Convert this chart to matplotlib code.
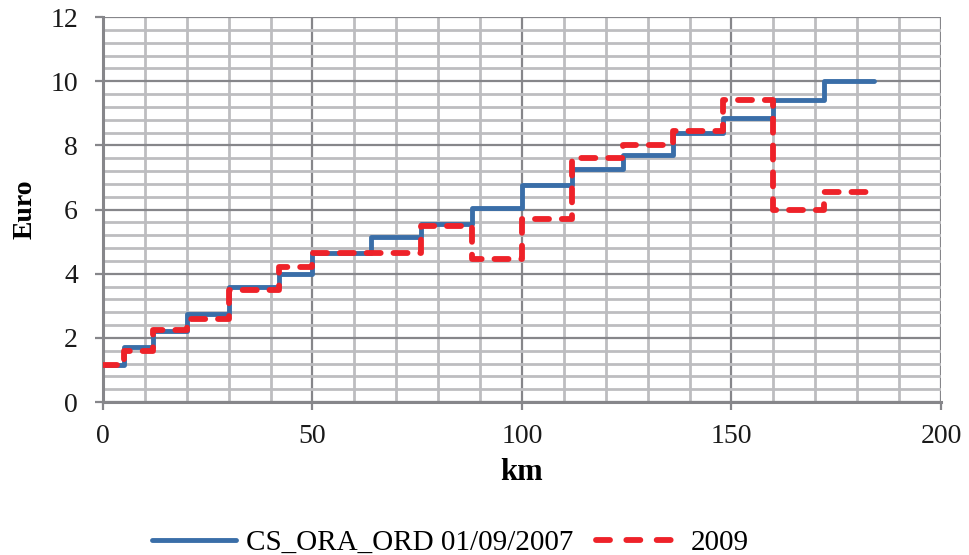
import matplotlib
matplotlib.use("Agg")
import matplotlib.pyplot as plt
from matplotlib.lines import Line2D

# step start positions (km), last value is the end of the line
km = [0, 5, 12, 20, 30, 42, 50, 64, 76, 88, 100, 112, 124, 136, 148, 160, 172, 184]

# fare levels (Euro) for each step, last one repeated for the end point
euro_2007 = [1.15, 1.7, 2.2, 2.75, 3.6, 4.0, 4.65, 5.15, 5.55, 6.05, 6.75,
             7.25, 7.7, 8.4, 8.85, 9.4, 10.0, 10.0]
euro_2009 = [1.15, 1.6, 2.25, 2.6, 3.5, 4.2, 4.65, 4.65, 5.5, 4.45, 5.7,
             7.6, 8.0, 8.45, 9.4, 6.0, 6.55, 6.55]

label_2007 = "CS_ORA_ORD 01/09/2007"
label_2009 = "2009"

blue = "#3a6ea8"
red = "#ee2229"
red_dash = (2.4, 2.2)

plt.rcParams["font.family"] = ["Liberation Serif", "DejaVu Serif"]

fig = plt.figure(figsize=(9.7, 5.55), dpi=100)
ax = fig.add_axes([103 / 970, 1 - 402 / 555, (941 - 103) / 970, (402 - 17) / 555])

ax.set_xlim(0, 200)
ax.set_ylim(0, 12)
ax.set_xticks(range(0, 201, 50))
ax.set_xticks(range(0, 201, 10), minor=True)
ax.set_yticks(range(0, 13, 2))
ax.set_yticks([i * 0.4 for i in range(31)], minor=True)

# grid: light minor lines, darker major lines
ax.grid(which="minor", color="#bdbdc0", linewidth=2.0)
ax.grid(which="major", color="#86868a", linewidth=1.6)
ax.set_axisbelow(True)

for side in ["top", "right"]:
    ax.spines[side].set_visible(False)
for side in ["left", "bottom"]:
    ax.spines[side].set_color("#86868a")
    ax.spines[side].set_linewidth(2.2)

ax.tick_params(which="major", direction="out", length=6, width=1.6,
               color="#86868a", labelsize=20, labelcolor="#1a1a1a")
ax.tick_params(axis="x", pad=10)
ax.tick_params(axis="y", pad=12)
ax.tick_params(which="minor", length=0)

ax.plot(km, euro_2007, drawstyle="steps-post", color=blue, linewidth=3.5,
        solid_capstyle="round", solid_joinstyle="round", zorder=3)
ax.plot(km, euro_2009, drawstyle="steps-post", color=red, linewidth=4.2,
        dashes=red_dash, dash_capstyle="round", dash_joinstyle="round", zorder=4)

ax.set_xlabel("km", fontsize=22, fontweight="bold", labelpad=6)
ax.set_ylabel("Euro", fontsize=20, fontweight="bold", labelpad=9)

handles = [
    Line2D([], [], color=blue, linewidth=3.5, solid_capstyle="round"),
    Line2D([], [], color=red, linewidth=4.2, dashes=(2.4, 2.8), dash_capstyle="round"),
]
fig.legend(handles, [label_2007, label_2009], loc="center", bbox_to_anchor=(0.464, 0.022),
           ncol=2, frameon=False, fontsize=21, handlelength=2.9, handletextpad=0.35,
           columnspacing=0.75, borderpad=0.1)

fig.savefig("out.png", dpi=100)
